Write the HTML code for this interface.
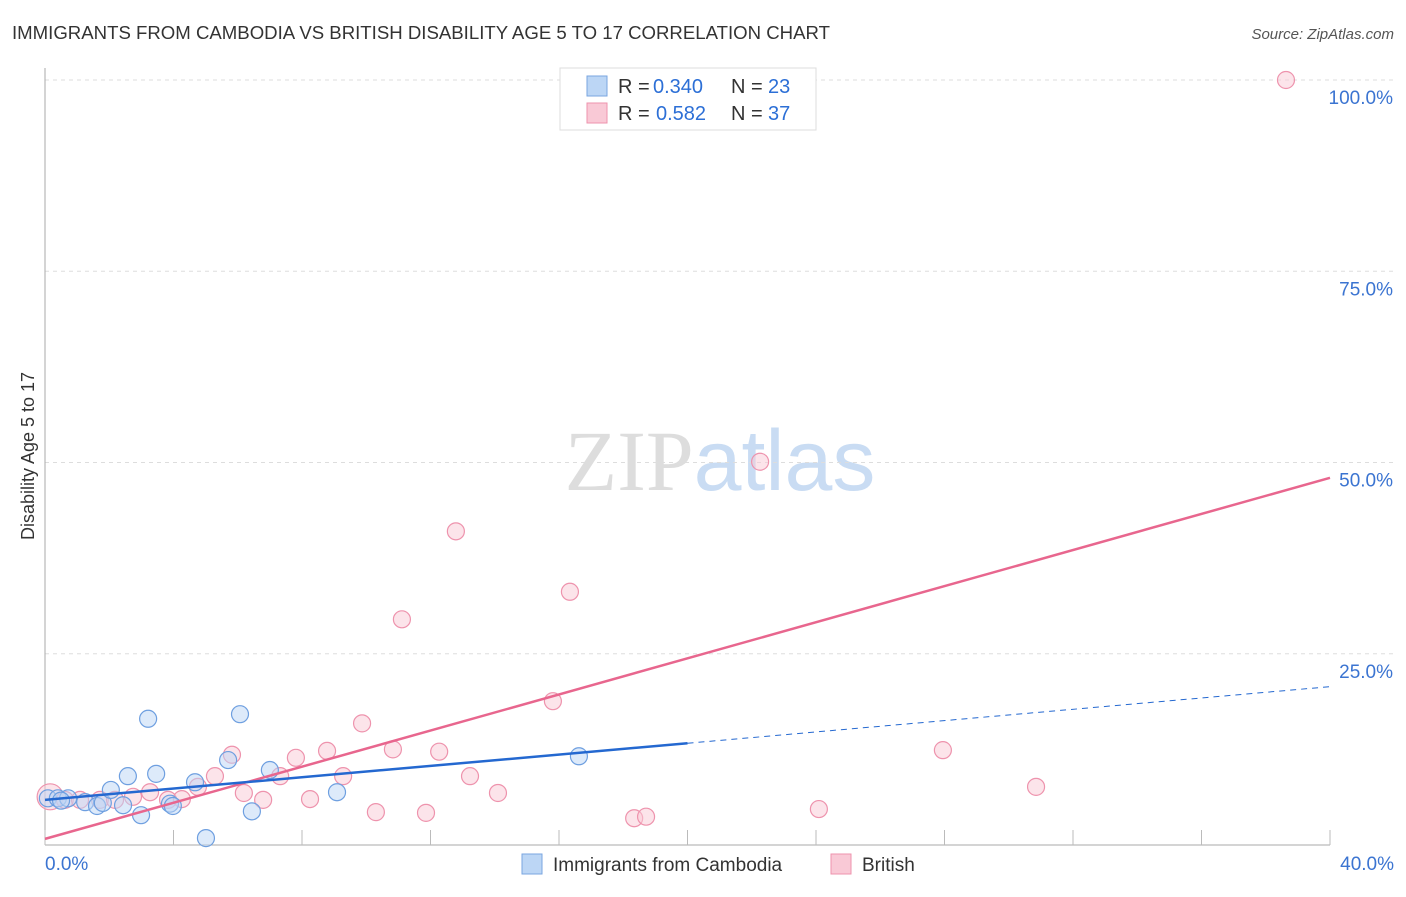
<!DOCTYPE html>
<html><head><meta charset="utf-8"><style>
body{margin:0;background:#fff;font-family:"Liberation Sans",sans-serif}
</style></head><body>
<svg id="chart" width="1406" height="892" xmlns="http://www.w3.org/2000/svg" font-family="Liberation Sans, sans-serif">
<text x="12" y="39" font-size="18" fill="#333" textLength="818" lengthAdjust="spacingAndGlyphs">IMMIGRANTS FROM CAMBODIA VS BRITISH DISABILITY AGE 5 TO 17 CORRELATION CHART</text>
<text x="1394" y="39" font-size="15" fill="#555" text-anchor="end" font-style="italic">Source: ZipAtlas.com</text>
<text x="720" y="490" font-size="86" text-anchor="middle"><tspan fill="#ddd" font-family="Liberation Serif, serif">ZIP</tspan><tspan fill="#c9dcf3">atlas</tspan></text>
<text transform="translate(34,456) rotate(-90)" font-size="18" fill="#333" text-anchor="middle">Disability Age 5 to 17</text>
<g id="grid"></g><g id="axes"></g><g id="marks"></g><g id="lines"></g>
<g>
<rect x="560" y="68" width="256" height="62" fill="#fff" stroke="#ddd"/>
<rect x="587" y="76" width="20" height="20" fill="#bcd6f5" stroke="#7aa6e0"/>
<text x="618" y="93" font-size="20" fill="#333">R =</text><text x="653" y="93" font-size="20" fill="#2c6fd6">0.340</text>
<text x="731" y="93" font-size="20" fill="#333">N =</text><text x="768" y="93" font-size="20" fill="#2c6fd6">23</text>
<rect x="587" y="103" width="20" height="20" fill="#f9c9d6" stroke="#ee93ad"/>
<text x="618" y="120" font-size="20" fill="#333">R =</text><text x="656" y="120" font-size="20" fill="#2c6fd6">0.582</text>
<text x="731" y="120" font-size="20" fill="#333">N =</text><text x="768" y="120" font-size="20" fill="#2c6fd6">37</text>
</g>
<g>
<rect x="522" y="854" width="20" height="20" fill="#bcd6f5" stroke="#7aa6e0"/>
<text x="553" y="871" font-size="19" fill="#333">Immigrants from Cambodia</text>
<rect x="831" y="854" width="20" height="20" fill="#f9c9d6" stroke="#ee93ad"/>
<text x="862" y="871" font-size="19" fill="#333">British</text>
</g>
</svg>
<script>
const blueX=[0.09,0.4,0.72,1.25,1.62,1.8,2.05,2.43,2.58,2.99,3.21,3.46,3.89,3.98,4.67,5.01,5.7,6.07,6.44,7.0,9.09,16.62,0.5];
const blueY=[6.1,6.1,6.1,5.6,5.1,5.5,7.2,5.2,9.0,3.9,16.5,9.3,5.4,5.1,8.2,0.9,11.1,17.1,4.4,9.8,6.9,11.6,5.8];
const pinkX=[0.16,0.62,1.09,1.71,2.18,2.74,3.27,3.83,4.26,4.76,5.29,5.82,6.19,6.79,7.32,7.81,8.25,8.78,9.28,9.87,10.3,10.83,11.11,11.86,12.27,12.79,13.23,14.1,15.81,16.34,18.34,18.71,22.26,24.09,27.95,30.85,38.63];
const pinkY=[6.3,5.9,5.9,5.9,5.9,6.3,6.9,5.9,6.0,7.6,9.0,11.8,6.8,5.9,9.0,11.4,6.0,12.3,9.0,15.9,4.3,12.5,29.5,4.2,12.2,41.0,9.0,6.8,18.8,33.1,3.5,3.7,50.1,4.7,12.4,7.6,100];
const yTicks=[25,50,75,100];
const xTickLabels=["0.0%","40.0%"];
const blueTrend=[5.9,20.7]; const pinkTrend=[0.8,48];
const sx=v=>45+v/40*1285, sy=v=>845-v*7.65;
const NS="http://www.w3.org/2000/svg";
function mk(p,t,a){const e=document.createElementNS(NS,t);for(const k in a)e.setAttribute(k,a[k]);document.getElementById(p).appendChild(e);return e;}
yTicks.forEach(t=>{
 const l=mk('grid','line',{x1:45,x2:1394,y1:sy(t),y2:sy(t),stroke:'#ddd','stroke-dasharray':'4,4'});
 
 
 const tx=mk('grid','text',{x:1393,y:sy(t)+24,'font-size':19,fill:'#3b74d1','text-anchor':'end'});tx.textContent=t.toFixed(1)+'%';
 
 
});
const ya=mk('axes','line',{x1:45,x2:45,y1:68,y2:845,stroke:'#aaa'});


const xa=mk('axes','line',{x1:45,x2:1330,y1:845,y2:845,stroke:'#aaa'});


for(let i=0;i<=40;i+=4){const t=mk('axes','line',{x1:sx(i),x2:sx(i),y1:830,y2:845,stroke:'#bbb'});
 
 }
[[0,'start',45],[40,'end',1394]].forEach((d,i)=>{const t=mk('axes','text',{x:d[2],y:870,'font-size':19,fill:'#3b74d1','text-anchor':d[1]});t.textContent=xTickLabels[i];
 
 });
pinkX.forEach((x,i)=>{const c=mk('marks','circle',{cx:sx(x),cy:sy(pinkY[i]),r:i==0?13:8.5,fill:'#f9c9d6','fill-opacity':0.5,stroke:'#ee93ad','stroke-width':1.2});
 
 });
blueX.forEach((x,i)=>{const c=mk('marks','circle',{cx:sx(x),cy:sy(blueY[i]),r:8.5,fill:'#bcd6f5','fill-opacity':0.5,stroke:'#6e9fe0','stroke-width':1.2});
 
 });
const pl=mk('lines','line',{x1:sx(0),y1:sy(pinkTrend[0]),x2:sx(40),y2:sy(pinkTrend[1]),stroke:'#e8668e','stroke-width':2.5});


const bm=blueTrend[0]+(blueTrend[1]-blueTrend[0])/2;
const bl=mk('lines','line',{x1:sx(0),y1:sy(blueTrend[0]),x2:sx(20),y2:sy(bm),stroke:'#2468d0','stroke-width':2.5});


const bd=mk('lines','line',{x1:sx(20),y1:sy(bm),x2:sx(40),y2:sy(blueTrend[1]),stroke:'#2468d0','stroke-width':1,'stroke-dasharray':'6,5'});


</script>
</body></html>
